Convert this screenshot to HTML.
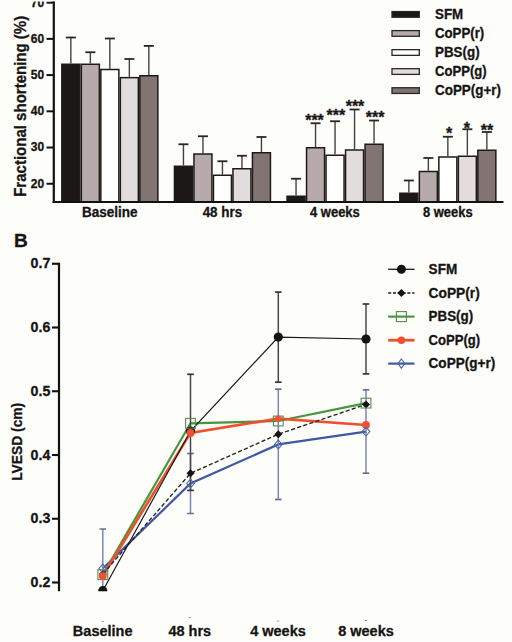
<!DOCTYPE html>
<html><head><meta charset="utf-8"><style>
html,body{margin:0;padding:0;background:#fdfdf9;width:512px;height:642px;overflow:hidden}
svg{display:block;font-family:"Liberation Sans", sans-serif}
text{stroke:#161414;stroke-width:0.3px}
</style></head><body>
<svg width="512" height="642" viewBox="0 0 512 642">
<rect width="512" height="642" fill="#fdfdf9"/>
<line x1="70.85" y1="37.50" x2="70.85" y2="63.50" stroke="#444040" stroke-width="1.4"/>
<line x1="65.85" y1="37.50" x2="75.85" y2="37.50" stroke="#2a2626" stroke-width="1.8"/>
<line x1="90.35" y1="52.25" x2="90.35" y2="63.50" stroke="#444040" stroke-width="1.4"/>
<line x1="85.35" y1="52.25" x2="95.35" y2="52.25" stroke="#2a2626" stroke-width="1.8"/>
<line x1="109.85" y1="38.50" x2="109.85" y2="68.75" stroke="#444040" stroke-width="1.4"/>
<line x1="104.85" y1="38.50" x2="114.85" y2="38.50" stroke="#2a2626" stroke-width="1.8"/>
<line x1="129.35" y1="59.00" x2="129.35" y2="76.90" stroke="#444040" stroke-width="1.4"/>
<line x1="124.35" y1="59.00" x2="134.35" y2="59.00" stroke="#2a2626" stroke-width="1.8"/>
<line x1="148.85" y1="45.90" x2="148.85" y2="75.00" stroke="#444040" stroke-width="1.4"/>
<line x1="143.85" y1="45.90" x2="153.85" y2="45.90" stroke="#2a2626" stroke-width="1.8"/>
<line x1="183.45" y1="144.25" x2="183.45" y2="165.50" stroke="#444040" stroke-width="1.4"/>
<line x1="178.45" y1="144.25" x2="188.45" y2="144.25" stroke="#2a2626" stroke-width="1.8"/>
<line x1="202.95" y1="136.25" x2="202.95" y2="153.25" stroke="#444040" stroke-width="1.4"/>
<line x1="197.95" y1="136.25" x2="207.95" y2="136.25" stroke="#2a2626" stroke-width="1.8"/>
<line x1="222.45" y1="161.25" x2="222.45" y2="174.50" stroke="#444040" stroke-width="1.4"/>
<line x1="217.45" y1="161.25" x2="227.45" y2="161.25" stroke="#2a2626" stroke-width="1.8"/>
<line x1="241.95" y1="155.75" x2="241.95" y2="168.00" stroke="#444040" stroke-width="1.4"/>
<line x1="236.95" y1="155.75" x2="246.95" y2="155.75" stroke="#2a2626" stroke-width="1.8"/>
<line x1="261.45" y1="137.00" x2="261.45" y2="152.00" stroke="#444040" stroke-width="1.4"/>
<line x1="256.45" y1="137.00" x2="266.45" y2="137.00" stroke="#2a2626" stroke-width="1.8"/>
<line x1="296.05" y1="178.75" x2="296.05" y2="195.50" stroke="#444040" stroke-width="1.4"/>
<line x1="291.05" y1="178.75" x2="301.05" y2="178.75" stroke="#2a2626" stroke-width="1.8"/>
<line x1="315.55" y1="123.25" x2="315.55" y2="147.00" stroke="#444040" stroke-width="1.4"/>
<line x1="310.55" y1="123.25" x2="320.55" y2="123.25" stroke="#2a2626" stroke-width="1.8"/>
<line x1="335.05" y1="121.25" x2="335.05" y2="154.50" stroke="#444040" stroke-width="1.4"/>
<line x1="330.05" y1="121.25" x2="340.05" y2="121.25" stroke="#2a2626" stroke-width="1.8"/>
<line x1="354.55" y1="109.50" x2="354.55" y2="149.25" stroke="#444040" stroke-width="1.4"/>
<line x1="349.55" y1="109.50" x2="359.55" y2="109.50" stroke="#2a2626" stroke-width="1.8"/>
<line x1="374.05" y1="120.50" x2="374.05" y2="143.50" stroke="#444040" stroke-width="1.4"/>
<line x1="369.05" y1="120.50" x2="379.05" y2="120.50" stroke="#2a2626" stroke-width="1.8"/>
<line x1="408.85" y1="180.50" x2="408.85" y2="192.50" stroke="#444040" stroke-width="1.4"/>
<line x1="403.85" y1="180.50" x2="413.85" y2="180.50" stroke="#2a2626" stroke-width="1.8"/>
<line x1="428.35" y1="158.00" x2="428.35" y2="170.75" stroke="#444040" stroke-width="1.4"/>
<line x1="423.35" y1="158.00" x2="433.35" y2="158.00" stroke="#2a2626" stroke-width="1.8"/>
<line x1="447.85" y1="136.75" x2="447.85" y2="156.25" stroke="#444040" stroke-width="1.4"/>
<line x1="442.85" y1="136.75" x2="452.85" y2="136.75" stroke="#2a2626" stroke-width="1.8"/>
<line x1="467.35" y1="129.25" x2="467.35" y2="155.50" stroke="#444040" stroke-width="1.4"/>
<line x1="462.35" y1="129.25" x2="472.35" y2="129.25" stroke="#2a2626" stroke-width="1.8"/>
<line x1="486.85" y1="132.00" x2="486.85" y2="149.50" stroke="#444040" stroke-width="1.4"/>
<line x1="481.85" y1="132.00" x2="491.85" y2="132.00" stroke="#2a2626" stroke-width="1.8"/>
<rect x="61.85" y="64.25" width="18.00" height="137.75" fill="#1c1818" stroke="#1e1a1a" stroke-width="1.5"/>
<rect x="81.35" y="64.25" width="18.00" height="137.75" fill="#b6abaa" stroke="#1e1a1a" stroke-width="1.5"/>
<rect x="100.85" y="69.50" width="18.00" height="132.50" fill="#fefefe" stroke="#1e1a1a" stroke-width="1.5"/>
<rect x="120.35" y="77.65" width="18.00" height="124.35" fill="#e3dcdd" stroke="#1e1a1a" stroke-width="1.5"/>
<rect x="139.85" y="75.75" width="18.00" height="126.25" fill="#827473" stroke="#1e1a1a" stroke-width="1.5"/>
<rect x="174.45" y="166.25" width="18.00" height="35.75" fill="#1c1818" stroke="#1e1a1a" stroke-width="1.5"/>
<rect x="193.95" y="154.00" width="18.00" height="48.00" fill="#b6abaa" stroke="#1e1a1a" stroke-width="1.5"/>
<rect x="213.45" y="175.25" width="18.00" height="26.75" fill="#fefefe" stroke="#1e1a1a" stroke-width="1.5"/>
<rect x="232.95" y="168.75" width="18.00" height="33.25" fill="#e3dcdd" stroke="#1e1a1a" stroke-width="1.5"/>
<rect x="252.45" y="152.75" width="18.00" height="49.25" fill="#827473" stroke="#1e1a1a" stroke-width="1.5"/>
<rect x="287.05" y="196.25" width="18.00" height="5.75" fill="#1c1818" stroke="#1e1a1a" stroke-width="1.5"/>
<rect x="306.55" y="147.75" width="18.00" height="54.25" fill="#b6abaa" stroke="#1e1a1a" stroke-width="1.5"/>
<rect x="326.05" y="155.25" width="18.00" height="46.75" fill="#fefefe" stroke="#1e1a1a" stroke-width="1.5"/>
<rect x="345.55" y="150.00" width="18.00" height="52.00" fill="#e3dcdd" stroke="#1e1a1a" stroke-width="1.5"/>
<rect x="365.05" y="144.25" width="18.00" height="57.75" fill="#827473" stroke="#1e1a1a" stroke-width="1.5"/>
<rect x="399.85" y="193.25" width="18.00" height="8.75" fill="#1c1818" stroke="#1e1a1a" stroke-width="1.5"/>
<rect x="419.35" y="171.50" width="18.00" height="30.50" fill="#b6abaa" stroke="#1e1a1a" stroke-width="1.5"/>
<rect x="438.85" y="157.00" width="18.00" height="45.00" fill="#fefefe" stroke="#1e1a1a" stroke-width="1.5"/>
<rect x="458.35" y="156.25" width="18.00" height="45.75" fill="#e3dcdd" stroke="#1e1a1a" stroke-width="1.5"/>
<rect x="477.85" y="150.25" width="18.00" height="51.75" fill="#827473" stroke="#1e1a1a" stroke-width="1.5"/>
<line x1="53.8" y1="1.5" x2="53.8" y2="203.0" stroke="#111" stroke-width="2.2"/>
<line x1="52.7" y1="202.0" x2="503.5" y2="202.0" stroke="#111" stroke-width="2.2"/>
<line x1="46.5" y1="2.65" x2="54" y2="2.65" stroke="#111" stroke-width="2"/>
<text x="44.2" y="6.5" text-anchor="end" font-size="12" font-weight="bold" fill="#161414">70</text>
<line x1="46.5" y1="38.87" x2="54" y2="38.87" stroke="#111" stroke-width="2"/>
<text x="44.2" y="42.8" text-anchor="end" font-size="12" font-weight="bold" fill="#161414">60</text>
<line x1="46.5" y1="75.09" x2="54" y2="75.09" stroke="#111" stroke-width="2"/>
<text x="44.2" y="79.0" text-anchor="end" font-size="12" font-weight="bold" fill="#161414">50</text>
<line x1="46.5" y1="111.31" x2="54" y2="111.31" stroke="#111" stroke-width="2"/>
<text x="44.2" y="115.2" text-anchor="end" font-size="12" font-weight="bold" fill="#161414">40</text>
<line x1="46.5" y1="147.53" x2="54" y2="147.53" stroke="#111" stroke-width="2"/>
<text x="44.2" y="151.4" text-anchor="end" font-size="12" font-weight="bold" fill="#161414">30</text>
<line x1="46.5" y1="183.75" x2="54" y2="183.75" stroke="#111" stroke-width="2"/>
<text x="44.2" y="187.7" text-anchor="end" font-size="12" font-weight="bold" fill="#161414">20</text>
<text transform="translate(25.6,196.8) rotate(-90)" font-size="16.2" font-weight="bold" fill="#161414" textLength="181" lengthAdjust="spacingAndGlyphs">Fractional shortening (%)</text>
<text x="109.8" y="216.7" text-anchor="middle" font-size="13.8" font-weight="bold" fill="#161414" textLength="55.6" lengthAdjust="spacingAndGlyphs">Baseline</text>
<text x="222.4" y="216.7" text-anchor="middle" font-size="13.8" font-weight="bold" fill="#161414" textLength="39.4" lengthAdjust="spacingAndGlyphs">48 hrs</text>
<text x="334.9" y="216.7" text-anchor="middle" font-size="13.8" font-weight="bold" fill="#161414" textLength="49.8" lengthAdjust="spacingAndGlyphs">4 weeks</text>
<text x="447.8" y="216.7" text-anchor="middle" font-size="13.8" font-weight="bold" fill="#161414" textLength="49.6" lengthAdjust="spacingAndGlyphs">8 weeks</text>
<text x="314.5" y="125.5" text-anchor="middle" font-size="16" font-weight="bold" fill="#1a1818">***</text>
<text x="335.9" y="120.7" text-anchor="middle" font-size="16" font-weight="bold" fill="#1a1818">***</text>
<text x="355" y="112.3" text-anchor="middle" font-size="16" font-weight="bold" fill="#1a1818">***</text>
<text x="375.2" y="122.9" text-anchor="middle" font-size="16" font-weight="bold" fill="#1a1818">***</text>
<text x="449.1" y="139.3" text-anchor="middle" font-size="16" font-weight="bold" fill="#1a1818">*</text>
<text x="466.9" y="133.6" text-anchor="middle" font-size="16" font-weight="bold" fill="#1a1818">*</text>
<text x="487" y="135.5" text-anchor="middle" font-size="16" font-weight="bold" fill="#1a1818">**</text>
<rect x="392" y="11.55" width="27.3" height="5.7" fill="#1c1818" stroke="#2a2626" stroke-width="1.3"/>
<text x="435" y="19.00" font-size="13.9" font-weight="bold" fill="#161414" textLength="28.2" lengthAdjust="spacingAndGlyphs">SFM</text>
<rect x="392" y="30.60" width="27.3" height="5.7" fill="#b6abaa" stroke="#2a2626" stroke-width="1.3"/>
<text x="435" y="38.05" font-size="13.9" font-weight="bold" fill="#161414" textLength="49.2" lengthAdjust="spacingAndGlyphs">CoPP(r)</text>
<rect x="392" y="49.65" width="27.3" height="5.7" fill="#fefefe" stroke="#2a2626" stroke-width="1.3"/>
<text x="435" y="57.10" font-size="13.9" font-weight="bold" fill="#161414" textLength="44.6" lengthAdjust="spacingAndGlyphs">PBS(g)</text>
<rect x="392" y="68.70" width="27.3" height="5.7" fill="#e3dcdd" stroke="#2a2626" stroke-width="1.3"/>
<text x="435" y="76.15" font-size="13.9" font-weight="bold" fill="#161414" textLength="51.6" lengthAdjust="spacingAndGlyphs">CoPP(g)</text>
<rect x="392" y="87.75" width="27.3" height="5.7" fill="#827473" stroke="#2a2626" stroke-width="1.3"/>
<text x="435" y="95.20" font-size="13.9" font-weight="bold" fill="#161414" textLength="66.0" lengthAdjust="spacingAndGlyphs">CoPP(g+r)</text>
<rect x="20" y="0" width="30" height="1.5" fill="#fdfdf9"/>
<text x="14.0" y="247.4" font-size="19" font-weight="bold" fill="#161414">B</text>
<line x1="59" y1="262.7" x2="59" y2="591.2" stroke="#111" stroke-width="2.2"/>
<line x1="52" y1="263.75" x2="59" y2="263.75" stroke="#111" stroke-width="2.1"/>
<text x="50.3" y="268.35" text-anchor="end" font-size="14.2" font-weight="bold" fill="#161414">0.7</text>
<line x1="52" y1="327.50" x2="59" y2="327.50" stroke="#111" stroke-width="2.1"/>
<text x="50.3" y="332.10" text-anchor="end" font-size="14.2" font-weight="bold" fill="#161414">0.6</text>
<line x1="52" y1="391.25" x2="59" y2="391.25" stroke="#111" stroke-width="2.1"/>
<text x="50.3" y="395.85" text-anchor="end" font-size="14.2" font-weight="bold" fill="#161414">0.5</text>
<line x1="52" y1="455.00" x2="59" y2="455.00" stroke="#111" stroke-width="2.1"/>
<text x="50.3" y="459.60" text-anchor="end" font-size="14.2" font-weight="bold" fill="#161414">0.4</text>
<line x1="52" y1="518.75" x2="59" y2="518.75" stroke="#111" stroke-width="2.1"/>
<text x="50.3" y="523.35" text-anchor="end" font-size="14.2" font-weight="bold" fill="#161414">0.3</text>
<line x1="52" y1="582.50" x2="59" y2="582.50" stroke="#111" stroke-width="2.1"/>
<text x="50.3" y="587.10" text-anchor="end" font-size="14.2" font-weight="bold" fill="#161414">0.2</text>
<text transform="translate(22,480.8) rotate(-90)" font-size="15" font-weight="bold" fill="#161414" textLength="78" lengthAdjust="spacingAndGlyphs">LVESD (cm)</text>
<text x="102.7" y="635.6" text-anchor="middle" font-size="14.5" font-weight="bold" fill="#161414">Baseline</text>
<line x1="101.5" y1="621.5" x2="103.9" y2="621.5" stroke="#888" stroke-width="0.8"/>
<text x="189.8" y="635.6" text-anchor="middle" font-size="14.5" font-weight="bold" fill="#161414">48 hrs</text>
<line x1="188.60000000000002" y1="617.6" x2="191.0" y2="617.6" stroke="#888" stroke-width="0.8"/>
<text x="278" y="635.6" text-anchor="middle" font-size="14.5" font-weight="bold" fill="#161414">4 weeks</text>
<line x1="276.8" y1="621" x2="279.2" y2="621" stroke="#888" stroke-width="0.8"/>
<text x="366" y="635.6" text-anchor="middle" font-size="14.5" font-weight="bold" fill="#161414">8 weeks</text>
<line x1="364.8" y1="620.5" x2="367.2" y2="620.5" stroke="#888" stroke-width="0.8"/>
<defs><clipPath id="pc"><rect x="59" y="250" width="450" height="341.3"/></clipPath></defs>
<g clip-path="url(#pc)">
<polyline points="102.8,568.5 190.5,483.5 278.3,444.4 366.0,431.6" fill="none" stroke="#3f58a4" stroke-width="2.2"/>
<line x1="102.8" y1="529.0" x2="102.8" y2="608.0" stroke="#7e85b6" stroke-width="1.5"/>
<line x1="99.5" y1="529.0" x2="106.1" y2="529.0" stroke="#6c6c98" stroke-width="1.7"/>
<line x1="99.5" y1="608.0" x2="106.1" y2="608.0" stroke="#6c6c98" stroke-width="1.7"/>
<line x1="190.5" y1="453.5" x2="190.5" y2="513.5" stroke="#7e85b6" stroke-width="1.5"/>
<line x1="187.2" y1="453.5" x2="193.8" y2="453.5" stroke="#6c6c98" stroke-width="1.7"/>
<line x1="187.2" y1="513.5" x2="193.8" y2="513.5" stroke="#6c6c98" stroke-width="1.7"/>
<line x1="278.3" y1="389.2" x2="278.3" y2="499.5" stroke="#7e85b6" stroke-width="1.5"/>
<line x1="275.0" y1="389.2" x2="281.6" y2="389.2" stroke="#6c6c98" stroke-width="1.7"/>
<line x1="275.0" y1="499.5" x2="281.6" y2="499.5" stroke="#6c6c98" stroke-width="1.7"/>
<line x1="366.0" y1="389.8" x2="366.0" y2="473.2" stroke="#7e85b6" stroke-width="1.5"/>
<line x1="362.7" y1="389.8" x2="369.3" y2="389.8" stroke="#6c6c98" stroke-width="1.7"/>
<line x1="362.7" y1="473.2" x2="369.3" y2="473.2" stroke="#6c6c98" stroke-width="1.7"/>
<polyline points="102.8,574.7 190.5,423.3 278.3,421.0 366.0,403.1" fill="none" stroke="#46963e" stroke-width="2.2"/>
<polyline points="102.8,576.0 190.5,432.9 278.3,418.6 366.0,425.0" fill="none" stroke="#ef5030" stroke-width="2.7"/>
<polyline points="102.8,574.0 190.5,473.3 278.3,434.2 366.0,404.4" fill="none" stroke="#2a2828" stroke-width="1.4" stroke-dasharray="4.2,2.2"/>
<line x1="190.5" y1="374.3" x2="190.5" y2="490.4" stroke="#4a4646" stroke-width="1.5"/>
<line x1="187.2" y1="374.3" x2="193.8" y2="374.3" stroke="#363434" stroke-width="1.7"/>
<line x1="187.2" y1="490.4" x2="193.8" y2="490.4" stroke="#363434" stroke-width="1.7"/>
<line x1="278.3" y1="292.1" x2="278.3" y2="382.2" stroke="#4a4646" stroke-width="1.5"/>
<line x1="275.0" y1="292.1" x2="281.6" y2="292.1" stroke="#363434" stroke-width="1.7"/>
<line x1="275.0" y1="382.2" x2="281.6" y2="382.2" stroke="#363434" stroke-width="1.7"/>
<line x1="366.0" y1="304.0" x2="366.0" y2="373.9" stroke="#4a4646" stroke-width="1.5"/>
<line x1="362.7" y1="304.0" x2="369.3" y2="304.0" stroke="#363434" stroke-width="1.7"/>
<line x1="362.7" y1="373.9" x2="369.3" y2="373.9" stroke="#363434" stroke-width="1.7"/>
<polyline points="102.8,590.7 190.5,431.0 278.3,337.1 366.0,339.0" fill="none" stroke="#1a1818" stroke-width="1.2"/>
<circle cx="102.8" cy="590.7" r="4.6" fill="#141212"/>
<circle cx="190.5" cy="431.0" r="4.6" fill="#141212"/>
<circle cx="278.3" cy="337.1" r="4.6" fill="#141212"/>
<circle cx="366.0" cy="339.0" r="4.6" fill="#141212"/>
<polygon points="102.8,570.0 106.8,574.0 102.8,578.0 98.8,574.0" fill="#141212" stroke="none" stroke-width="0"/>
<polygon points="190.5,469.3 194.5,473.3 190.5,477.3 186.5,473.3" fill="#141212" stroke="none" stroke-width="0"/>
<polygon points="278.3,430.2 282.3,434.2 278.3,438.2 274.3,434.2" fill="#141212" stroke="none" stroke-width="0"/>
<polygon points="366.0,400.4 370.0,404.4 366.0,408.4 362.0,404.4" fill="#141212" stroke="none" stroke-width="0"/>
<rect x="97.89999999999999" y="569.8000000000001" width="9.8" height="9.8" fill="none" stroke="#5a8a50" stroke-width="1.1"/>
<rect x="185.6" y="418.40000000000003" width="9.8" height="9.8" fill="none" stroke="#5a8a50" stroke-width="1.1"/>
<rect x="273.40000000000003" y="416.1" width="9.8" height="9.8" fill="none" stroke="#5a8a50" stroke-width="1.1"/>
<rect x="361.1" y="398.20000000000005" width="9.8" height="9.8" fill="none" stroke="#5a8a50" stroke-width="1.1"/>
<circle cx="102.8" cy="576.0" r="3.9" fill="#ef5030"/>
<circle cx="190.5" cy="432.9" r="3.9" fill="#ef5030"/>
<circle cx="278.3" cy="418.6" r="3.2" fill="#ef5030"/>
<circle cx="366.0" cy="425.0" r="3.9" fill="#ef5030"/>
<polygon points="102.8,564.1 106.6,568.5 102.8,572.9 99.0,568.5" fill="none" stroke="#5066b0" stroke-width="1.1"/>
<polygon points="190.5,479.1 194.3,483.5 190.5,487.9 186.7,483.5" fill="none" stroke="#5066b0" stroke-width="1.1"/>
<polygon points="278.3,440.0 282.1,444.4 278.3,448.79999999999995 274.5,444.4" fill="none" stroke="#5066b0" stroke-width="1.1"/>
<polygon points="366.0,427.20000000000005 369.8,431.6 366.0,436.0 362.2,431.6" fill="none" stroke="#5066b0" stroke-width="1.1"/>
</g>
<line x1="388.2" y1="269.3" x2="414.5" y2="269.3" stroke="#1a1818" stroke-width="1.3"/>
<circle cx="401.4" cy="269.3" r="4.5" fill="#141212"/>
<line x1="388.2" y1="293.0" x2="414.5" y2="293.0" stroke="#1a1818" stroke-width="1.3" stroke-dasharray="3,1.8"/>
<polygon points="401.4,288.9 405.5,293.0 401.4,297.1 397.29999999999995,293.0" fill="#141212" stroke="none" stroke-width="0"/>
<line x1="388.2" y1="316.6" x2="414.5" y2="316.6" stroke="#46963e" stroke-width="2.2"/>
<rect x="396.4" y="311.6" width="10" height="10" fill="none" stroke="#5a8a50" stroke-width="1.1"/>
<line x1="388.2" y1="340.2" x2="414.5" y2="340.2" stroke="#ef5030" stroke-width="2.8"/>
<circle cx="401.4" cy="340.2" r="3.8" fill="#ef5030"/>
<line x1="388.2" y1="363.6" x2="414.5" y2="363.6" stroke="#3f58a4" stroke-width="2.2"/>
<polygon points="401.4,359.0 404.79999999999995,363.6 401.4,368.20000000000005 398.0,363.6" fill="none" stroke="#5066b0" stroke-width="1.1"/>
<text x="428.6" y="273.90" font-size="14" textLength="28.6" lengthAdjust="spacingAndGlyphs" font-weight="bold" fill="#161414">SFM</text>
<text x="428.6" y="297.60" font-size="14" textLength="51.2" lengthAdjust="spacingAndGlyphs" font-weight="bold" fill="#161414">CoPP(r)</text>
<text x="428.6" y="321.20" font-size="14" textLength="44.6" lengthAdjust="spacingAndGlyphs" font-weight="bold" fill="#161414">PBS(g)</text>
<text x="428.6" y="344.80" font-size="14" textLength="51.6" lengthAdjust="spacingAndGlyphs" font-weight="bold" fill="#161414">CoPP(g)</text>
<text x="428.6" y="368.20" font-size="14" textLength="66.6" lengthAdjust="spacingAndGlyphs" font-weight="bold" fill="#161414">CoPP(g+r)</text>
</svg>
</body></html>
